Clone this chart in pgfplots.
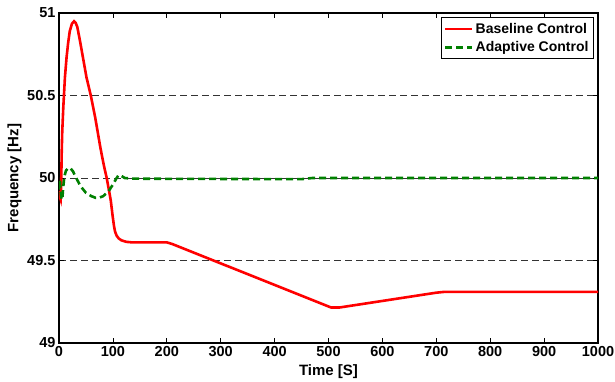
\documentclass[border=0pt]{standalone}
\usepackage{pgfplots}
\pgfplotsset{compat=1.18}
\usepackage{fontspec}
\setmainfont{Liberation Sans}
\definecolor{dgreen}{rgb}{0,0.5,0}
\begin{document}
\begin{tikzpicture}
\useasboundingbox (-59pt,-38pt) rectangle (556pt,343pt);
\begin{axis}[
  at={(0pt,0pt)}, anchor=south west,
  scale only axis, width=539pt, height=330pt,
  xmin=0, xmax=1000, ymin=49, ymax=51,
  xtick={0,100,...,1000},
  ytick={49,49.5,50,50.5,51},
  /pgf/number format/assume math mode=true,
  /pgf/number format/1000 sep={},
  tick label style={font=\bfseries\fontsize{14.5}{15}\selectfont},
  label style={font=\bfseries\fontsize{15}{15}\selectfont},
  xlabel={Time [S]},
  ylabel={Frequency [Hz]},
  xlabel style={yshift=-1pt},
  ylabel style={yshift=-1pt},
  axis line style={line width=1.2pt},
  tick style={black, line width=0.8pt},
  major tick length=5pt,
  tick align=inside,
  ymajorgrids,
  grid style={black!80, dash pattern=on 7pt off 4pt, line width=0.6pt},
  legend style={at={(1,1)}, xshift=-4pt, yshift=-4pt, anchor=north east,
    font=\bfseries\fontsize{14}{15}\selectfont, draw=black, line width=1pt,
    inner xsep=3pt, inner ysep=3.5pt, row sep=3pt},
  legend cell align=left,
  legend image code/.code={\draw[#1, line width=2.6pt] (0pt,0pt) -- (27pt,0pt);},
]
\addplot[red, line width=2.6pt] coordinates {
(0,49.92) (2,49.88) (3,49.87) (4,49.95) (5,50.15) (6,50.28) (8,50.43) (11,50.61)
(14,50.73) (17,50.82) (20,50.89) (24,50.935) (28,50.95) (31,50.94) (34,50.915)
(39,50.83) (45,50.72) (51,50.61) (59,50.5) (67,50.37) (77,50.18) (83,50.08)
(88.5,50.0) (93,49.92) (96,49.865) (99.5,49.77) (102,49.71) (104,49.675)
(107,49.65) (111,49.633) (116,49.622) (125,49.613) (135,49.61)
(200,49.61) (210,49.6) (505,49.215) (520,49.215) (700,49.305) (715,49.31) (1000,49.31)
};
\addlegendentry{Baseline Control}
\addplot[dgreen, line width=2.6pt, dash pattern=on 7pt off 4pt] coordinates {
(0,49.93) (1.5,49.99) (3,49.92) (4.5,49.87) (6,49.87) (8,49.95) (10,50.01)
(13,50.045) (17,50.06) (21,50.06) (26,50.04) (32,50.0) (40,49.95) (50,49.91)
(60,49.89) (68,49.88) (74,49.88) (82,49.89) (92,49.92) (100,49.96) (106,49.995)
(110,50.015) (113,50.018) (117,50.01) (122,50.0) (135,49.996) (200,49.995)
(450,49.993) (470,50.0) (1000,50.0)
};
\addlegendentry{Adaptive Control}
\end{axis}
\end{tikzpicture}
\end{document}
